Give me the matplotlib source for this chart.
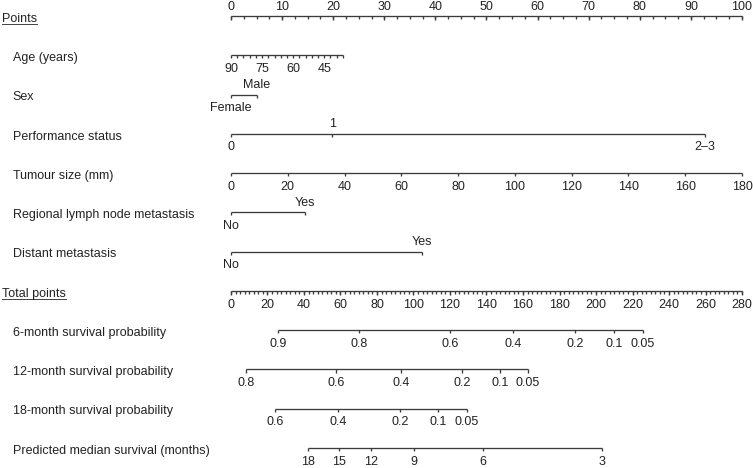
import numpy as np
import matplotlib.pyplot as plt
from matplotlib.lines import Line2D

plt.rcParams['font.family'] = ['Liberation Sans', 'DejaVu Sans']
plt.rcParams['font.size'] = 9.0

# ---- data ----
row_names = ['Points', 'Age (years)', 'Sex', 'Performance status', 'Tumour size (mm)',
             'Regional lymph node metastasis', 'Distant metastasis', 'Total points',
             '6-month survival probability', '12-month survival probability',
             '18-month survival probability', 'Predicted median survival (months)']

points_labels = [0, 10, 20, 30, 40, 50, 60, 70, 80, 90, 100]
points_minor = 2.5

age_labels = [90, 75, 60, 45]
age_ticks = [90, 87, 84, 81, 78, 75, 72, 69, 66, 63, 60, 57, 54, 51, 48, 45, 42, 39, 36]
age_range = [90, 36]
age_points = [0, 21.9]

sex_levels = ['Female', 'Male']
sex_points = [0, 5.0]

ps_levels = ['0', '1', '2\u20133']
ps_points = [0, 19.8, 92.8]

tumour_labels = [0, 20, 40, 60, 80, 100, 120, 140, 160, 180]
tumour_range = [0, 180]
tumour_points = [0, 100]

lymph_levels = ['No', 'Yes']
lymph_points = [0, 14.5]

distant_levels = ['No', 'Yes']
distant_points = [0, 37.4]

total_labels = [0, 20, 40, 60, 80, 100, 120, 140, 160, 180, 200, 220, 240, 260, 280]
total_minor = 2.5
total_max = 280

surv6_labels = ['0.9', '0.8', '0.6', '0.4', '0.2', '0.1', '0.05']
surv6_total = [25.7, 70, 120, 154.5, 188.5, 209.9, 225.8]
surv12_labels = ['0.8', '0.6', '0.4', '0.2', '0.1', '0.05']
surv12_total = [8.2, 57.5, 93.2, 126.6, 147.4, 162.7]
surv18_labels = ['0.6', '0.4', '0.2', '0.1', '0.05']
surv18_total = [24.1, 58.6, 92.6, 113.4, 129.3]
median_labels = ['18', '15', '12', '9', '6', '3']
median_total = [42.2, 59.2, 76.7, 100.3, 138.1, 203.3]

# ---- drawing ----
lc = '#3c3c3c'
tc = '#222222'
lw = 0.95
tl = 0.08  # tick length in row units

fig = plt.figure(figsize=(7.53, 4.68), dpi=100)
ax = fig.add_axes([0, 0, 1, 1])
ax.set_xlim(-45.2, 102.15)
ax.set_ylim(11.51, -0.407)
ax.axis('off')


def tot2pts(t):
    return np.asarray(t, dtype=float) * 100.0 / total_max


def axis_line(row, x0, x1, ticks, major=None, tlen=tl):
    ax.plot([x0, x1], [row, row], color=lc, lw=lw, solid_capstyle='butt')
    ax.vlines(ticks, row, row + tlen, color=lc, lw=lw)
    if major is not None:
        ax.vlines(major, row, row + tlen * 1.3, color=lc, lw=lw)


def label(x, row, s, where='below'):
    if where == 'below':
        ax.annotate(s, (x, row), xytext=(0, -5.5), textcoords='offset points',
                    ha='center', va='top', color=tc)
    else:
        ax.annotate(s, (x, row), xytext=(0, 2.5), textcoords='offset points',
                    ha='center', va='bottom', color=tc)


# row names
name_objs = []
for i, name in enumerate(row_names):
    x = 0.003 if name in ('Points', 'Total points') else 0.017
    t = ax.text(x, i + 0.07, name, transform=ax.get_yaxis_transform(),
                ha='left', va='center', color=tc)
    name_objs.append(t)

# Points axis
r = 0
pminor = np.arange(points_labels[0], points_labels[-1] + 0.01, points_minor)
axis_line(r, points_labels[0], points_labels[-1], pminor, points_labels)
for v in points_labels:
    ax.annotate(str(v), (v, r), xytext=(0, 2.5), textcoords='offset points',
                ha='center', va='bottom', color=tc)

# Age
r = 1
ax_ticks = np.interp(age_ticks, age_range[::-1], age_points[::-1])
axis_line(r, age_points[0], age_points[1], ax_ticks)
for v in age_labels:
    label(np.interp(v, age_range[::-1], age_points[::-1]), r, str(v))


# categorical rows
def cat_row(r, levels, pts):
    axis_line(r, min(pts), max(pts), pts)
    for k, (lv, p) in enumerate(zip(levels, pts)):
        label(p, r, lv, 'below' if k % 2 == 0 else 'above')


cat_row(2, sex_levels, sex_points)
cat_row(3, ps_levels, ps_points)

# Tumour size
r = 4
tt = np.interp(tumour_labels, tumour_range, tumour_points)
axis_line(r, tumour_points[0], tumour_points[1], tt)
for v, x in zip(tumour_labels, tt):
    label(x, r, str(v))

cat_row(5, lymph_levels, lymph_points)
cat_row(6, distant_levels, distant_points)

# Total points
r = 7
tminor = tot2pts(np.arange(0, total_max + 0.01, total_minor))
axis_line(r, 0, 100, tminor, tot2pts(total_labels))
for v in total_labels:
    label(tot2pts(v), r, str(v))

# survival / median rows
for r, labs, tots in [(8, surv6_labels, surv6_total),
                      (9, surv12_labels, surv12_total),
                      (10, surv18_labels, surv18_total),
                      (11, median_labels, median_total)]:
    xs = tot2pts(tots)
    axis_line(r, xs.min(), xs.max(), xs)
    for s, x in zip(labs, xs):
        label(x, r, s)

# underline "Points" and "Total points"
fig.canvas.draw()
rend = fig.canvas.get_renderer()
for k in (0, 7):
    bb = name_objs[k].get_window_extent(rend)
    y = bb.y0 + 1
    fig.add_artist(Line2D([bb.x0 / fig.bbox.width, bb.x1 / fig.bbox.width],
                          [y / fig.bbox.height, y / fig.bbox.height],
                          color=tc, lw=0.6))

fig.savefig('out.png', dpi=100)
